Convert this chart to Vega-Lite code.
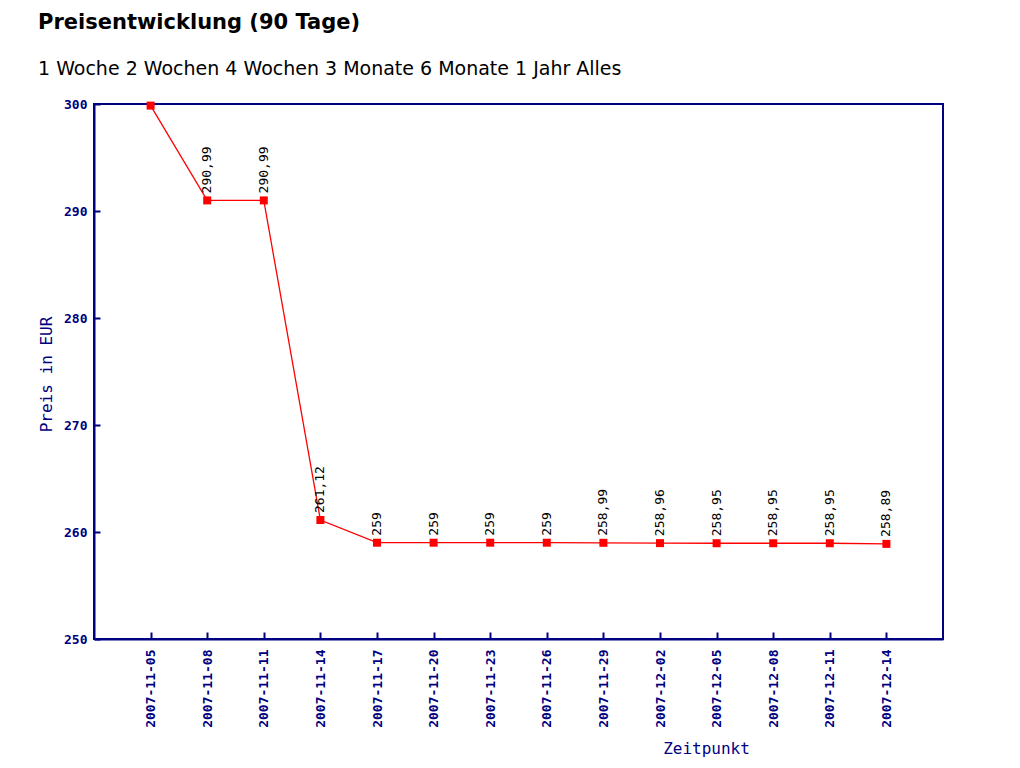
{
  "$schema": "https://vega.github.io/schema/vega-lite/v6.json",
  "width": 849,
  "height": 535,
  "autosize": "none",
  "padding": {"left": 94, "top": 104, "right": 77, "bottom": 129},
  "background": "white",
  "title": {
    "text": "Preisentwicklung (90 Tage)",
    "subtitle": "1 Woche 2 Wochen 4 Wochen 3 Monate 6 Monate 1 Jahr Alles",
    "anchor": "start",
    "frame": "group",
    "dx": -56,
    "offset": 19,
    "font": "DejaVu Sans",
    "fontSize": 21,
    "fontWeight": "bold",
    "color": "#000000",
    "subtitleFont": "DejaVu Sans",
    "subtitleFontSize": 19,
    "subtitleColor": "#000000",
    "subtitlePadding": 27
  },
  "data": {
    "values": [
      {"datum": "2007-11-05", "preis": 299.85, "label": "299,99"},
      {"datum": "2007-11-08", "preis": 290.99, "label": "290,99"},
      {"datum": "2007-11-11", "preis": 290.99, "label": "290,99"},
      {"datum": "2007-11-14", "preis": 261.12, "label": "261,12"},
      {"datum": "2007-11-17", "preis": 259, "label": "259"},
      {"datum": "2007-11-20", "preis": 259, "label": "259"},
      {"datum": "2007-11-23", "preis": 259, "label": "259"},
      {"datum": "2007-11-26", "preis": 259, "label": "259"},
      {"datum": "2007-11-29", "preis": 258.99, "label": "258,99"},
      {"datum": "2007-12-02", "preis": 258.96, "label": "258,96"},
      {"datum": "2007-12-05", "preis": 258.95, "label": "258,95"},
      {"datum": "2007-12-08", "preis": 258.95, "label": "258,95"},
      {"datum": "2007-12-11", "preis": 258.95, "label": "258,95"},
      {"datum": "2007-12-14", "preis": 258.89, "label": "258,89"}
    ]
  },
  "encoding": {
    "x": {
      "field": "datum",
      "type": "ordinal",
      "sort": null,
      "scale": {"type": "point", "padding": 1},
      "axis": {
        "title": "Zeitpunkt",
        "titleX": 612,
        "titleY": 114,
        "titleBaseline": "alphabetic",
        "titleFont": "DejaVu Sans Mono",
        "titleFontSize": 16,
        "titleFontWeight": "normal",
        "titleColor": "#000080",
        "labelAngle": 270,
        "labelAlign": "right",
        "labelBaseline": "middle",
        "labelPadding": 17,
        "labelFont": "DejaVu Sans Mono",
        "labelFontSize": 13,
        "labelFontWeight": "bold",
        "labelColor": "#000080",
        "tickSize": -7,
        "tickColor": "#000080",
        "tickWidth": 2,
        "domainColor": "#000080",
        "domainWidth": 2,
        "grid": false
      }
    },
    "y": {
      "field": "preis",
      "type": "quantitative",
      "scale": {"domain": [250, 300], "nice": false, "zero": false},
      "axis": {
        "title": "Preis in EUR",
        "titleX": -48,
        "titleY": 270,
        "titleAngle": 270,
        "titleBaseline": "middle",
        "titleAlign": "center",
        "titleFont": "DejaVu Sans Mono",
        "titleFontSize": 16,
        "titleFontWeight": "normal",
        "titleColor": "#000080",
        "values": [250, 260, 270, 280, 290, 300],
        "labelFont": "DejaVu Sans Mono",
        "labelFontSize": 13,
        "labelFontWeight": "bold",
        "labelColor": "#000080",
        "labelPadding": 13,
        "tickSize": -6,
        "tickColor": "#000080",
        "tickWidth": 2,
        "domainColor": "#000080",
        "domainWidth": 2,
        "grid": false
      }
    }
  },
  "layer": [
    {"mark": {"type": "line", "color": "#ff0000", "strokeWidth": 1.3}},
    {"mark": {"type": "point", "shape": "square", "filled": true, "size": 64, "color": "#ff0000", "opacity": 1}},
    {
      "mark": {
        "type": "text",
        "angle": 270,
        "align": "left",
        "baseline": "middle",
        "dx": 7,
        "font": "DejaVu Sans Mono",
        "fontSize": 13,
        "color": "#000000",
        "clip": true
      },
      "encoding": {"text": {"field": "label"}}
    }
  ],
  "config": {
    "view": {"stroke": "#000080", "strokeWidth": 2}
  }
}
